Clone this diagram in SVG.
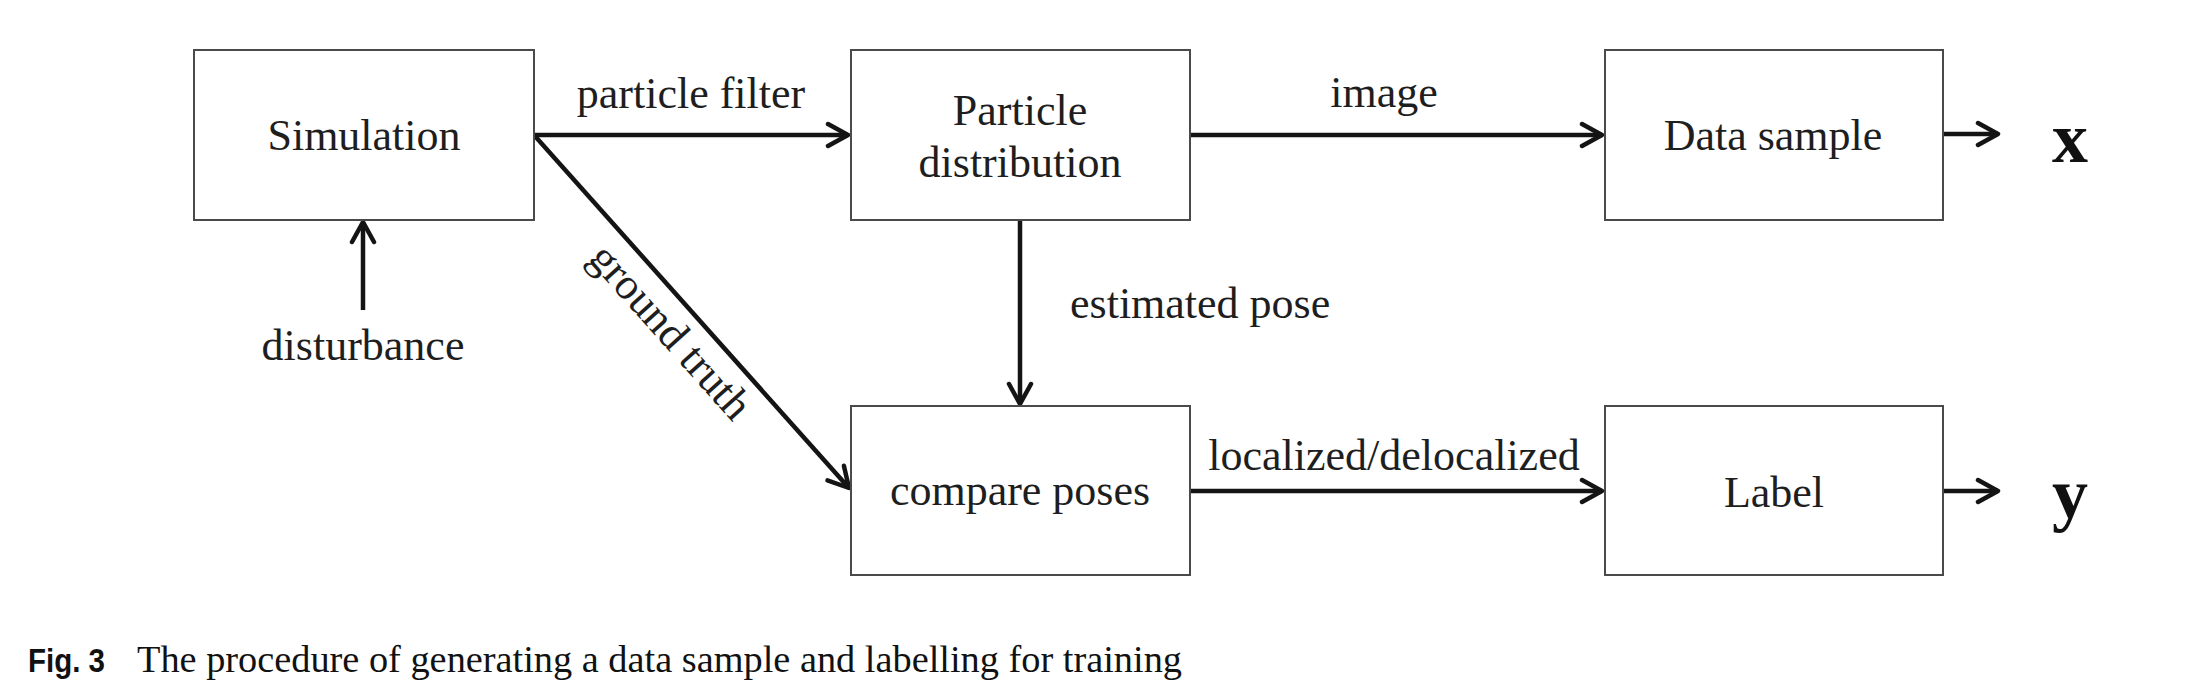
<svg xmlns="http://www.w3.org/2000/svg" width="2190" height="694" viewBox="0 0 2190 694">
<style>
.box{fill:#fff;stroke:#4a4a4a;stroke-width:2}
.t{font-family:"Liberation Serif","Times New Roman",serif;font-size:44px;fill:#1e1e1e;text-anchor:middle}
.lbl{font-family:"Liberation Serif","Times New Roman",serif;font-size:44px;fill:#1e1e1e}
.var{font-family:"Liberation Serif","Times New Roman",serif;font-size:72px;font-weight:bold;fill:#111}
.arr{fill:none;stroke:#141414;stroke-width:4.5;marker-end:url(#ah)}
.cap{font-family:"Liberation Serif","Times New Roman",serif;font-size:38px;fill:#111}
.capb{font-family:"Liberation Sans",Arial,sans-serif;font-size:34px;font-weight:bold;fill:#111}
</style>
<defs>
<marker id="ah" markerUnits="userSpaceOnUse" viewBox="0 0 26 28" markerWidth="26" markerHeight="28" refX="23" refY="14" orient="auto">
<path d="M3,3 L23,14 L3,25" fill="none" stroke="#141414" stroke-width="4.5" stroke-linecap="round" stroke-linejoin="round"/>
</marker>
</defs>
<rect width="2190" height="694" fill="#fff"/>
<g id="connectors">
<line class="arr" x1="534" y1="135" x2="848" y2="135"/>
<line class="arr" x1="1190" y1="135" x2="1602" y2="135"/>
<line class="arr" x1="1943" y1="134" x2="1998" y2="134"/>
<line class="arr" x1="1190" y1="491" x2="1602" y2="491"/>
<line class="arr" x1="1943" y1="491" x2="1998" y2="491"/>
<line class="arr" x1="1020" y1="220" x2="1020" y2="404"/>
<line class="arr" x1="363" y1="310" x2="363" y2="222"/>
<line class="arr" x1="534" y1="135" x2="849" y2="488"/>
<text class="t" x="691" y="108">particle filter</text>
<text class="t" x="1384" y="107">image</text>
<text class="lbl" x="1070" y="318">estimated pose</text>
<text class="t" x="1394" y="470">localized/delocalized</text>
<text class="t" transform="translate(660,341) rotate(48.2)">ground truth</text>
</g>
<g id="simulation">
<rect class="box" x="194" y="50" width="340" height="170"/>
<text class="t" x="364" y="150">Simulation</text>
</g>
<g id="disturbance">
<text class="t" x="363" y="360">disturbance</text>
</g>
<g id="particle-distribution">
<rect class="box" x="851" y="50" width="339" height="170"/>
<text class="t" x="1020" y="125">Particle</text>
<text class="t" x="1020" y="177">distribution</text>
</g>
<g id="data-sample">
<rect class="box" x="1605" y="50" width="338" height="170"/>
<text class="t" x="1773" y="150">Data sample</text>
</g>
<g id="compare-poses">
<rect class="box" x="851" y="406" width="339" height="169"/>
<text class="t" x="1020" y="505">compare poses</text>
</g>
<g id="label">
<rect class="box" x="1605" y="406" width="338" height="169"/>
<text class="t" x="1774" y="507">Label</text>
</g>
<g id="x-output">
<text class="var" x="2052" y="162">x</text>
</g>
<g id="y-output">
<text class="var" x="2052" y="518">y</text>
</g>
<g id="caption">
<text class="capb" x="28" y="672" textLength="77" lengthAdjust="spacingAndGlyphs">Fig. 3</text>
<text class="cap" x="137" y="672" textLength="1045" lengthAdjust="spacingAndGlyphs">The procedure of generating a data sample and labelling for training</text>
</g>
</svg>
